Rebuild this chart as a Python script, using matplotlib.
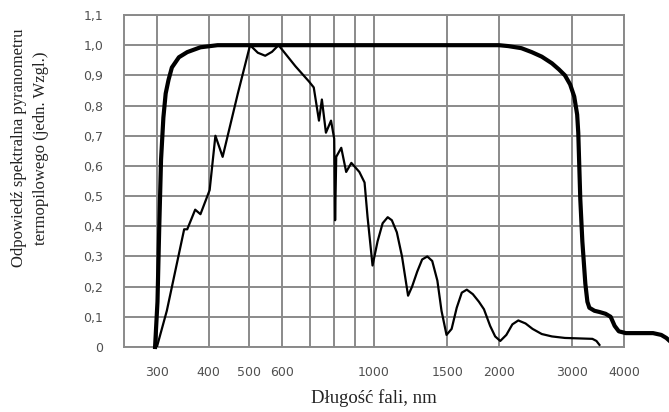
import matplotlib
matplotlib.use("Agg")
import matplotlib.pyplot as plt

# Dane (długość fali w nm, odpowiedź względna)
lam_thick = [297, 301, 304, 307, 311, 315, 320, 326, 339, 355, 382, 420, 600, 1000, 1500,
             2000, 2105, 2265, 2398, 2535, 2682, 2787, 2883, 2967, 3035, 3085, 3104,
             3139, 3175, 3228, 3265, 3301, 3396, 3491, 3612, 3715, 3798, 3886, 4041,
             4700, 4918, 5058, 5230]
resp_thick = [0.0, 0.15, 0.40, 0.62, 0.76, 0.84, 0.885, 0.926, 0.96, 0.977, 0.993, 1.0, 1.0, 1.0, 1.0,
              1.0, 0.997, 0.99, 0.977, 0.962, 0.94, 0.92, 0.90, 0.87, 0.83, 0.77, 0.71,
              0.49, 0.35, 0.21, 0.15, 0.13, 0.12, 0.116, 0.11, 0.10, 0.07, 0.052, 0.046,
              0.046, 0.04, 0.03, 0.012]

lam_thin = [300, 317, 349, 355, 371, 382, 402, 415, 432, 470, 503, 525, 547, 568, 589, 647,
            697, 716, 737, 749, 766, 788, 802, 806, 811, 834, 857, 882, 922, 949,
            965, 992, 1020, 1049, 1079, 1104, 1135, 1168, 1208, 1235, 1271, 1306, 1344,
            1381, 1421, 1454, 1495, 1538, 1582, 1627, 1673, 1730, 1789, 1840, 1904,
            1958, 2014, 2083, 2154, 2226, 2317, 2409, 2535, 2682, 2883, 3357, 3433, 3491]
resp_thin = [0.0, 0.12, 0.39, 0.39, 0.455, 0.44, 0.52, 0.70, 0.63, 0.84, 1.0, 0.975, 0.965, 0.978, 1.0, 0.93,
             0.88, 0.86, 0.75, 0.82, 0.71, 0.75, 0.69, 0.42, 0.63, 0.66, 0.58, 0.61, 0.58, 0.545,
             0.43, 0.27, 0.35, 0.41, 0.43, 0.42, 0.38, 0.30, 0.17, 0.20, 0.25, 0.29, 0.30,
             0.285, 0.22, 0.12, 0.04, 0.06, 0.13, 0.18, 0.19, 0.175, 0.15, 0.125, 0.07,
             0.035, 0.02, 0.04, 0.075, 0.088, 0.078, 0.06, 0.043, 0.035, 0.03, 0.027, 0.02, 0.007]

x_ticks = [300, 400, 500, 600, 1000, 1500, 2000, 3000, 4000]
x_minor = [700, 800, 900]
y_ticks = [0, 0.1, 0.2, 0.3, 0.4, 0.5, 0.6, 0.7, 0.8, 0.9, 1.0, 1.1]
y_labels = ['0', '0,1', '0,2', '0,3', '0,4', '0,5', '0,6', '0,7', '0,8', '0,9', '1,0', '1,1']

fig = plt.figure(figsize=(6.69, 4.12), dpi=100)
ax = fig.add_axes([124/669, 1 - 347/412, 500/669, 332/412])

ax.plot(lam_thick, resp_thick, color='black', linewidth=3.0, clip_on=False, zorder=3,
        solid_joinstyle='round')
ax.plot(lam_thin, resp_thin, color='black', linewidth=1.6, zorder=3, solid_joinstyle='round')

ax.set_xscale('log')
ax.set_xlim(250, 4000)
ax.set_ylim(0, 1.1)
ax.set_xticks(x_ticks)
ax.set_xticklabels([str(v) for v in x_ticks])
ax.set_xticks(x_minor, minor=True)
ax.set_xticklabels([], minor=True)
ax.set_yticks(y_ticks)
ax.set_yticklabels(y_labels)

ax.grid(True, which='both', color='#8a8a8a', linewidth=1.4)
ax.set_axisbelow(True)
for s in ax.spines.values():
    s.set_color('#8a8a8a')
    s.set_linewidth(1.4)

ax.tick_params(axis='both', which='both', length=0, labelsize=9, labelcolor='#505050')
ax.tick_params(axis='x', pad=14)
ax.tick_params(axis='y', pad=15)

ax.set_xlabel('Długość fali, nm', family='Liberation Serif', fontsize=13.5, color='#222222')
ax.xaxis.set_label_coords(0.5, -0.155)
ax.xaxis.label.set_va('center')

ax.set_ylabel('Odpowiedź spektralna pyranometru\ntermopilowego (jedn. Wzgl.)',
              family='Liberation Serif', fontsize=12, color='#222222',
              linespacing=1.45, va='center')
ax.yaxis.set_label_coords(-0.188, 0.60)

fig.savefig('out.png', dpi=100)
